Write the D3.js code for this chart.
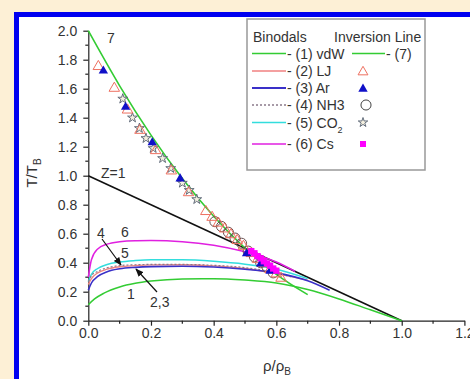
<!DOCTYPE html>
<html><head><meta charset="utf-8">
<script src="https://cdn.jsdelivr.net/npm/d3@7"></script>
<style>
html,body{margin:0;padding:0;background:#fdf0d6;}
svg{display:block;font-family:"Liberation Sans",Arial,sans-serif;}
</style></head>
<body>
<svg id="c" width="470" height="379"></svg>
<script>
// ---------- data ----------
const xTicks = [0, 0.2, 0.4, 0.6, 0.8, 1.0, 1.2];
const yTicks = [0, 0.2, 0.4, 0.6, 0.8, 1.0, 1.2, 1.4, 1.6, 1.8, 2.0];

const rhoVdW = [0, 0.02, 0.05, 0.1, 0.15, 0.2, 0.3, 0.4, 0.5, 0.6, 0.7, 0.8, 0.9, 1.0];
const tVdW   = [0.11, 0.15, 0.19, 0.233, 0.258, 0.273, 0.288, 0.29, 0.28, 0.26, 0.215, 0.15, 0.075, 0.0];

const rhoLJ = [0, 0.01, 0.03, 0.06, 0.1, 0.15, 0.2, 0.3, 0.4, 0.5, 0.6, 0.7];
const tLJ   = [0.25, 0.29, 0.33, 0.355, 0.372, 0.38, 0.385, 0.386, 0.378, 0.36, 0.325, 0.28];

const rhoAr = [0, 0.01, 0.03, 0.06, 0.1, 0.15, 0.2, 0.3, 0.4, 0.5, 0.6, 0.7, 0.77];
const tAr   = [0.21, 0.26, 0.305, 0.338, 0.358, 0.368, 0.373, 0.376, 0.37, 0.355, 0.33, 0.275, 0.21];

const rhoNH3 = [0, 0.01, 0.03, 0.06, 0.1, 0.15, 0.2, 0.3, 0.4, 0.5, 0.6, 0.65];
const tNH3   = [0.27, 0.31, 0.34, 0.365, 0.38, 0.386, 0.388, 0.388, 0.382, 0.366, 0.33, 0.3];

const rhoCO2 = [0, 0.01, 0.03, 0.06, 0.1, 0.15, 0.2, 0.3, 0.4, 0.5, 0.6, 0.7];
const tCO2   = [0.27, 0.32, 0.36, 0.388, 0.405, 0.415, 0.42, 0.42, 0.41, 0.39, 0.355, 0.29];

const rhoCs = [0, 0.01, 0.03, 0.06, 0.1, 0.15, 0.2, 0.3, 0.4, 0.5, 0.55, 0.6, 0.66];
const tCs   = [0.30, 0.42, 0.495, 0.528, 0.545, 0.552, 0.553, 0.545, 0.52, 0.475, 0.445, 0.405, 0.34];

const rhoInv = [0, 0.1, 0.2, 0.3, 0.4, 0.5, 0.6, 0.7];
const tInv   = [2.0, 1.62, 1.28, 0.98, 0.72, 0.5, 0.32, 0.18];

const rhoZ1 = [0, 1.0];
const tZ1   = [1.0, 0.0];

const rhoPtsLJ = [0.032, 0.083, 0.125, 0.165, 0.215, 0.265, 0.32, 0.375, 0.395, 0.415, 0.435, 0.455, 0.475, 0.495, 0.52, 0.54, 0.56, 0.58, 0.6, 0.615];
const tPtsLJ   = [1.76, 1.61, 1.46, 1.32, 1.18, 1.04, 0.89, 0.76, 0.72, 0.68, 0.64, 0.6, 0.56, 0.52, 0.47, 0.43, 0.4, 0.36, 0.33, 0.3];

const rhoPtsAr = [0.048, 0.119, 0.204, 0.293, 0.505, 0.55, 0.58];
const tPtsAr   = [1.73, 1.48, 1.235, 0.986, 0.47, 0.4, 0.35];

const rhoPtsNH3 = [0.404, 0.425, 0.447, 0.468, 0.489, 0.51, 0.53, 0.55, 0.57, 0.59];
const tPtsNH3   = [0.683, 0.65, 0.61, 0.57, 0.534, 0.48, 0.44, 0.40, 0.37, 0.33];

const rhoPtsCO2 = [0.11, 0.141, 0.163, 0.184, 0.207, 0.237, 0.263, 0.3, 0.322, 0.346];
const tPtsCO2   = [1.53, 1.40, 1.327, 1.258, 1.189, 1.12, 1.051, 0.95, 0.90, 0.837];

const rhoPtsCs = [0.52, 0.53, 0.54, 0.55, 0.56, 0.57, 0.58, 0.59, 0.6];
const tPtsCs   = [0.48, 0.465, 0.445, 0.43, 0.41, 0.395, 0.38, 0.36, 0.345];

const legendNames = ["- (1) vdW", "- (2) LJ", "- (3) Ar", "- (4) NH3", "- (5) CO", "- (6) Cs"];

// ---------- drawing ----------
const svg = d3.select("#c");
const zip = (a, b) => a.map((v, i) => [v, b[i]]);

// frame
svg.append("rect").attr("x", 14).attr("y", 12).attr("width", 470).attr("height", 379).attr("fill", "#0000f0");
svg.append("rect").attr("x", 19).attr("y", 17).attr("width", 470).attr("height", 379).attr("fill", "#ffffff");

const x = d3.scaleLinear().domain([0, 1.2]).range([88.3, 464.4]);
const y = d3.scaleLinear().domain([0, 2]).range([320.7, 30.7]);
const line = d3.line().x(d => x(d[0])).y(d => y(d[1])).curve(d3.curveMonotoneX);
const lineLin = d3.line().x(d => x(d[0])).y(d => y(d[1]));

const defs = svg.append("defs");
defs.append("marker").attr("id", "arr").attr("viewBox", "0 0 10 10").attr("refX", 9).attr("refY", 5)
  .attr("markerWidth", 7).attr("markerHeight", 7).attr("orient", "auto")
  .append("path").attr("d", "M0,1 L10,5 L0,9 z").attr("fill", "#111");

const g = svg.append("g");

// axes
const txtCol = "#333";
const xAxis = d3.axisBottom(x).tickValues(xTicks).tickFormat(d3.format(".1f")).tickSize(5).tickSizeOuter(0).tickPadding(2);
const gx = g.append("g").attr("transform", `translate(0,${y(0)})`).call(xAxis);
const yAxis = d3.axisLeft(y).tickValues(yTicks).tickFormat(d3.format(".1f")).tickSize(5).tickSizeOuter(0).tickPadding(6);
const gy = g.append("g").attr("transform", `translate(${x(0)},0)`).call(yAxis);
[gx, gy].forEach(a => {
  a.selectAll("text").attr("font-size", 14).attr("fill", txtCol).attr("font-family", '"Liberation Sans",Arial,sans-serif');
  a.selectAll("line,path").attr("stroke", "#222").attr("stroke-width", 1.2);
});
// minor ticks
const xMinor = d3.range(0.1, 1.2, 0.2);
g.append("g").selectAll("line").data(xMinor).join("line")
  .attr("x1", d => x(d)).attr("x2", d => x(d)).attr("y1", y(0)).attr("y2", y(0) + 3)
  .attr("stroke", "#222").attr("stroke-width", 1.2);
const yMinor = d3.range(0.1, 2.0, 0.2);
g.append("g").selectAll("line").data(yMinor).join("line")
  .attr("y1", d => y(d)).attr("y2", d => y(d)).attr("x1", x(0)).attr("x2", x(0) - 3)
  .attr("stroke", "#222").attr("stroke-width", 1.2);

// axis titles
const yl = g.append("text").attr("transform", "translate(37,173) rotate(-90)").attr("text-anchor", "middle")
  .attr("font-size", 15).attr("fill", txtCol);
yl.append("tspan").text("T/T");
yl.append("tspan").text("B").attr("font-size", 10).attr("dy", 4);
const xl = g.append("text").attr("x", 277).attr("y", 371).attr("text-anchor", "middle").attr("font-size", 15).attr("fill", txtCol);
xl.append("tspan").text("ρ/ρ");
xl.append("tspan").text("B").attr("font-size", 10).attr("dy", 4);

// series lines
const curves = [
  {d: zip(rhoZ1, tZ1), c: "#111", w: 1.6, lin: true},
  {d: zip(rhoVdW, tVdW), c: "#33cc33", w: 1.5},
  {d: zip(rhoCs, tCs), c: "#e020e0", w: 1.5},
  {d: zip(rhoCO2, tCO2), c: "#33dddd", w: 1.5},
  {d: zip(rhoLJ, tLJ), c: "#f08080", w: 1.3},
  {d: zip(rhoNH3, tNH3), c: "#8a7a8a", w: 1.2, dash: "2,2"},
  {d: zip(rhoAr, tAr), c: "#3a30c8", w: 1.6},
  {d: zip(rhoInv, tInv), c: "#33cc33", w: 1.6, lin: false}
];
curves.forEach(s => {
  g.append("path").attr("d", (s.lin ? lineLin : line)(s.d)).attr("fill", "none")
    .attr("stroke", s.c).attr("stroke-width", s.w).attr("stroke-dasharray", s.dash || null);
});

// markers
const sym = (type, size) => d3.symbol().type(type).size(size)();
g.append("g").selectAll("path").data(zip(rhoPtsCO2, tPtsCO2)).join("path")
  .attr("transform", d => `translate(${x(d[0])},${y(d[1])})`).attr("d", sym(d3.symbolStar, 30))
  .attr("fill", "#f4f0e0").attr("stroke", "#556070").attr("stroke-width", 0.9);
g.append("g").selectAll("path").data(zip(rhoPtsNH3, tPtsNH3)).join("path")
  .attr("transform", d => `translate(${x(d[0])},${y(d[1])})`).attr("d", sym(d3.symbolCircle, 80))
  .attr("fill", "none").attr("stroke", "#6a5050").attr("stroke-width", 1);
g.append("g").selectAll("path").data(zip(rhoPtsLJ, tPtsLJ)).join("path")
  .attr("transform", d => `translate(${x(d[0])},${y(d[1]) + 1})`).attr("d", sym(d3.symbolTriangle, 48))
  .attr("fill", "none").attr("stroke", "#ee7060").attr("stroke-width", 1);
g.append("g").selectAll("path").data(zip(rhoPtsAr, tPtsAr)).join("path")
  .attr("transform", d => `translate(${x(d[0])},${y(d[1]) + 1})`).attr("d", sym(d3.symbolTriangle, 38))
  .attr("fill", "#1010c8");
g.append("g").selectAll("path").data(zip(rhoPtsCs, tPtsCs)).join("path")
  .attr("transform", d => `translate(${x(d[0])},${y(d[1])})`).attr("d", sym(d3.symbolSquare, 40))
  .attr("fill", "#ff00ff");

// annotations
const ann = [["7", 107, 43], ["Z=1", 101, 178], ["4", 97, 238], ["6", 121, 237], ["5", 121, 258], ["1", 127, 299], ["2,3", 150, 307]];
g.append("g").selectAll("text").data(ann).join("text")
  .attr("x", d => d[1]).attr("y", d => d[2]).text(d => d[0]).attr("font-size", 14).attr("fill", txtCol);
g.append("line").attr("x1", 102).attr("y1", 239).attr("x2", 121).attr("y2", 265)
  .attr("stroke", "#111").attr("stroke-width", 1.2).attr("marker-end", "url(#arr)");
g.append("line").attr("x1", 157).attr("y1", 292).attr("x2", 136).attr("y2", 269)
  .attr("stroke", "#111").attr("stroke-width", 1.2).attr("marker-end", "url(#arr)");

// legend
const lg = g.append("g");
lg.append("rect").attr("x", 247).attr("y", 19).attr("width", 178).attr("height", 151)
  .attr("fill", "#fff").attr("stroke", "#999").attr("stroke-width", 1.5);
lg.append("text").attr("x", 253).attr("y", 42).text("Binodals").attr("font-size", 14).attr("fill", txtCol);
lg.append("text").attr("x", 334).attr("y", 42).text("Inversion Line").attr("font-size", 14).attr("fill", txtCol);
const rowsY = [53.5, 71, 88, 105, 122.5, 144];
const lcols = ["#33cc33", "#f08080", "#3a30c8", "#8a7a8a", "#33dddd", "#e020e0"];
rowsY.forEach((ry, i) => {
  lg.append("line").attr("x1", 252).attr("x2", 286).attr("y1", ry).attr("y2", ry)
    .attr("stroke", lcols[i]).attr("stroke-width", i === 2 ? 2 : 1.5).attr("stroke-dasharray", i === 3 ? "2,2" : null);
  const t = lg.append("text").attr("x", 287).attr("y", ry + 5).attr("font-size", 14).attr("fill", txtCol);
  t.append("tspan").text(legendNames[i]);
  if (i === 4) t.append("tspan").text("2").attr("font-size", 9).attr("dy", 5);
});
lg.append("line").attr("x1", 352).attr("x2", 385).attr("y1", rowsY[0]).attr("y2", rowsY[0]).attr("stroke", "#33cc33").attr("stroke-width", 1.5);
lg.append("text").attr("x", 386).attr("y", rowsY[0] + 5).text("- (7)").attr("font-size", 14).attr("fill", txtCol);
const mx = 363;
lg.append("path").attr("transform", `translate(${mx},${rowsY[1] + 1})`).attr("d", sym(d3.symbolTriangle, 42)).attr("fill", "none").attr("stroke", "#ee7060");
lg.append("path").attr("transform", `translate(${mx},${rowsY[2] + 1})`).attr("d", sym(d3.symbolTriangle, 38)).attr("fill", "#1010c8");
lg.append("path").attr("transform", `translate(${mx + 3},${rowsY[3]})`).attr("d", sym(d3.symbolCircle, 80)).attr("fill", "none").attr("stroke", "#444");
lg.append("path").attr("transform", `translate(${mx},${rowsY[4]})`).attr("d", sym(d3.symbolStar, 28)).attr("fill", "#f4f0e0").attr("stroke", "#556070").attr("stroke-width", 0.9);
lg.append("path").attr("transform", `translate(${mx},${rowsY[5]})`).attr("d", sym(d3.symbolSquare, 36)).attr("fill", "#ff00ff");
</script>
</body></html>
